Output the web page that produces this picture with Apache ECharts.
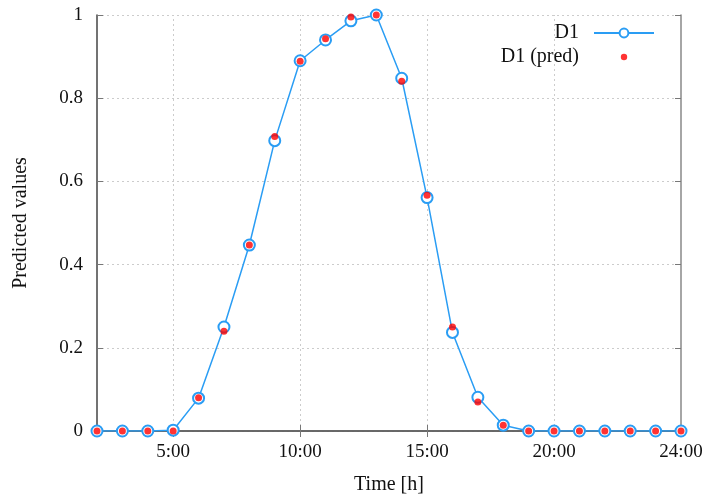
<!DOCTYPE html>
<html>
<head>
<meta charset="utf-8">
<script src="https://cdn.jsdelivr.net/npm/echarts@6/dist/echarts.min.js"></script>
<style>html,body{margin:0;padding:0;background:#fff}#c{width:706px;height:495px}</style>
</head>
<body>
<div id="c"></div>
<script>
// Data
var hours = [2,3,4,5,6,7,8,9,10,11,12,13,14,15,16,17,18,19,20,21,22,23,24,25];
var d1 = [0,0,0,0.002,0.079,0.25,0.447,0.698,0.890,0.940,0.986,1.0,0.848,0.561,0.237,0.081,0.014,0,0,0,0,0,0,0];
var d1Pred = [0,0,0,0,0.080,0.240,0.447,0.708,0.889,0.943,0.995,1.0,0.841,0.567,0.250,0.070,0.014,0,0,0,0,0,0,0];
var xTickValues = [5,10,15,20,25];
var xTickLabels = ['5:00','10:00','15:00','20:00','24:00'];
var xGridValues = [5,10,15,20];

var font = '"Liberation Serif", "DejaVu Serif", serif';
var chart = echarts.init(document.getElementById('c'));
function pairs(xs, ys){ return xs.map(function(x,i){return [x, ys[i]];}); }
var labelMap = {};
xTickValues.forEach(function(v,i){ labelMap[v] = xTickLabels[i]; });

chart.setOption({
  animation: false,
  backgroundColor: '#fff',
  textStyle: {fontFamily: font},
  grid: {left: 97, right: 25, top: 15, bottom: 64, containLabel: false, outerBoundsMode: 'none'},
  legend: {
    orient: 'vertical', right: 46, top: 18, align: 'right',
    itemWidth: 60, itemHeight: 11, itemGap: 4,
    textStyle: {fontFamily: font, fontSize: 20, color: '#111', padding: [0, 10, 0, 0]},
    data: [
      {name: 'D1'},
      {name: 'D1 (pred)', icon: 'path://M0,-5.5L0,-5.5M0,5.5L0,5.5M-3.2,0A3.2,3.2 0 1,1 3.2,0A3.2,3.2 0 1,1 -3.2,0Z'}
    ]
  },
  xAxis: [{
    type: 'value', min: 2, max: 25,
    name: 'Time [h]', nameLocation: 'middle', nameGap: 44,
    nameMoveOverlap: false,
    nameTextStyle: {fontFamily: font, fontSize: 20, color: '#111'},
    axisLine: {show: true, lineStyle: {color: '#888', width: 1.5}},
    axisTick: {show: true, inside: true, length: 6, customValues: xTickValues, lineStyle: {color: '#777'}},
    axisLabel: {customValues: xTickValues, margin: 12, fontFamily: font, fontSize: 19, color: '#111',
      formatter: function(v){ return labelMap[v] || ''; }},
    splitLine: {show: false}
  }, {
    type: 'value', min: 2, max: 25, position: 'top',
    axisLine: {show: true, lineStyle: {color: '#555', width: 1.5}},
    axisTick: {show: true, inside: true, length: 6, customValues: xTickValues, lineStyle: {color: '#777'}},
    axisLabel: {show: false},
    splitLine: {show: false}
  }],
  yAxis: [{
    type: 'value', min: 0, max: 1, interval: 0.2,
    name: 'Predicted values', nameLocation: 'middle', nameGap: 66,
    nameTextStyle: {fontFamily: font, fontSize: 20, color: '#111'},
    axisLine: {show: true, lineStyle: {color: '#444', width: 1.5}},
    axisTick: {show: true, inside: true, length: 6, lineStyle: {color: '#777'}},
    axisLabel: {margin: 14, fontFamily: font, fontSize: 19, color: '#111'},
    splitLine: {show: true, lineStyle: {color: '#ccc', type: [2,3], width: 1}}
  }, {
    type: 'value', min: 0, max: 1, interval: 0.2, position: 'right',
    axisLine: {show: true, lineStyle: {color: '#888', width: 1.5}},
    axisTick: {show: true, inside: true, length: 6, lineStyle: {color: '#777'}},
    axisLabel: {show: false},
    splitLine: {show: false}
  }],
  series: [{
    name: 'D1', type: 'line', data: pairs(hours, d1),
    symbol: 'emptyCircle', symbolSize: 11,
    lineStyle: {color: '#2a9df4', width: 1.5},
    itemStyle: {color: '#2a9df4', borderWidth: 1.5},
    z: 2,
    markLine: {
      silent: true, symbol: 'none', label: {show: false},
      lineStyle: {color: '#ccc', type: [2,3], width: 1},
      data: xGridValues.map(function(v){ return {xAxis: v}; }),
      z: 0
    }
  }, {
    name: 'D1 (pred)', type: 'scatter', data: pairs(hours, d1Pred),
    symbol: 'circle', symbolSize: 7,
    itemStyle: {color: '#ff0000'},
    z: 3
  }]
});
</script>
</body>
</html>
